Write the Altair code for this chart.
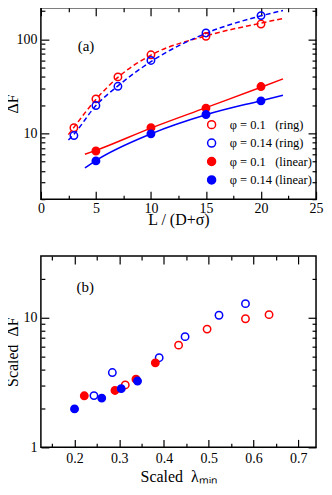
import altair as alt
import pandas as pd

FONT = "Liberation Serif"
RED = "#ff0000"
BLUE = "#0000ff"
NONE = "rgba(255,255,255,0)"

# ---------------- panel (a) data ----------------
L_ring = [3, 5, 7, 10, 15, 20]
dF_ring_01 = [11.5, 23.3, 39.9, 68.6, 107.7, 145.6]
dF_ring_014 = [9.5, 19.8, 31.7, 59.7, 117, 179]
L_lin = [5, 10, 15, 20]
dF_lin_01 = [6.5, 11.5, 18.6, 31.5]
dF_lin_014 = [5.1, 9.9, 15.9, 22.2]

fit_ring_01_L = [2.5, 3, 5, 7, 10, 15, 20, 22]
fit_ring_01_dF = [9.7, 11.6, 23, 39.5, 68, 109, 149, 167]
fit_ring_014_L = [2.5, 3, 5, 7, 10, 15, 20, 22]
fit_ring_014_dF = [8.5, 9.8, 19.8, 32, 58, 116, 178, 203]
fit_lin_01_L = [4, 5, 10, 15, 20, 22]
fit_lin_01_dF = [6.0, 6.6, 11.4, 18.8, 31, 38]
fit_lin_014_L = [4, 5, 10, 15, 20, 22]
fit_lin_014_dF = [4.3, 5.15, 9.9, 15.8, 22.3, 25.5]

# ---------------- panel (b) data ----------------
lam_ring_01 = [0.3136, 0.4328, 0.4965, 0.5823, 0.635]
sdF_ring_01 = [3.03, 6.15, 8.18, 9.83, 10.57]
lam_ring_014 = [0.2436, 0.2847, 0.3894, 0.4473, 0.5231, 0.5823]
sdF_ring_014 = [2.51, 3.78, 4.92, 7.15, 10.46, 12.86]
lam_lin_01 = [0.222, 0.2906, 0.3375, 0.3808]
sdF_lin_01 = [2.50, 2.75, 3.36, 4.49]
lam_lin_014 = [0.2002, 0.261, 0.3045, 0.341]
sdF_lin_014 = [1.98, 2.40, 2.84, 3.25]

series = ["\u03c6 = 0.1\u00a0\u00a0\u00a0(ring)", "\u03c6 = 0.14 (ring)",
          "\u03c6 = 0.1\u00a0\u00a0\u00a0(linear)", "\u03c6 = 0.14 (linear)"]
fills = [NONE, NONE, RED, BLUE]
strokes = [RED, BLUE, RED, BLUE]

# axis ticks / labels
xa_major = [0, 5, 10, 15, 20, 25]
xa_minor = [2.5, 7.5, 12.5, 17.5, 22.5]
ya_major = [10, 100]
ya_minor = [2, 3, 4, 5, 6, 7, 8, 9, 20, 30, 40, 50, 60, 70, 80, 90, 200]
xb_major = [0.2, 0.3, 0.4, 0.5, 0.6, 0.7]
xb_minor = [0.15, 0.25, 0.35, 0.45, 0.55, 0.65]
yb_major = [1, 10]
yb_minor = [2, 3, 4, 5, 6, 7, 8, 9, 20]

W, H = 276, 192


def pts(xs_list, ys_list):
    rows = []
    for i, (xs, ys) in enumerate(zip(xs_list, ys_list)):
        for x, y in zip(xs, ys):
            rows.append({"x": x, "y": y, "s": series[i], "o": i})
    return pd.DataFrame(rows)


def line_df(xs, ys):
    return pd.DataFrame({"x": xs, "y": ys})


def axis(orient, values, size, labels=False, title=None, **kw):
    if not labels:
        kw.setdefault("minExtent", 0)
        kw.setdefault("maxExtent", 0)
    return alt.Axis(orient=orient, values=values, tickSize=size, offset=-size,
                    domain=False, grid=False, labels=labels, title=title,
                    tickColor="black", tickWidth=1.2,
                    labelFont=FONT, titleFont=FONT, labelFontSize=14,
                    titleFontSize=16, titleFontWeight="normal",
                    labelColor="black", titleColor="black", **kw)


def carriers(df, xs, ys, xmaj, xmin, ymaj, ymin, xtitle, ytitle, xlp, xtp, xfmt, yfmt):
    out = []
    specs = [
        (axis("bottom", xmaj, 8, labels=True, title=xtitle, labelPadding=xlp,
              titlePadding=xtp, labelFlush=False, format=xfmt),
         axis("left", ymaj, 8, labels=True, title=ytitle, labelPadding=4,
              titlePadding=-3, minExtent=31, maxExtent=31, format=yfmt)),
        (axis("bottom", xmin, 4), axis("left", ymin, 4)),
        (axis("top", xmaj, 8), axis("right", ymaj, 8)),
        (axis("top", xmin, 4), axis("right", ymin, 4)),
    ]
    for xax, yax in specs:
        out.append(alt.Chart(df).mark_point(opacity=0).encode(
            x=alt.X("x:Q", scale=xs, axis=xax),
            y=alt.Y("y:Q", scale=ys, axis=yax)))
    return out


def fitline(xs, ys, color, dash, sx, sy):
    m = alt.Chart(line_df(xs, ys)).mark_line(
        color=color, strokeWidth=1.5, interpolate="monotone",
        **({"strokeDash": dash} if dash else {}))
    return m.encode(x=alt.X("x:Q", scale=sx, axis=None),
                    y=alt.Y("y:Q", scale=sy, axis=None))


# ---------------- panel (a) ----------------
sxa = alt.Scale(domain=[0, 25], nice=False, zero=False)
sya = alt.Scale(type="log", domain=[2, 217], nice=False)
dfa = pts([L_ring, L_ring, L_lin, L_lin], [dF_ring_01, dF_ring_014, dF_lin_01, dF_lin_014])

leg = alt.Legend(title=None, orient="none", legendX=165, legendY=111,
                 symbolType="circle", symbolSize=64, symbolStrokeWidth=1.5,
                 labelFont=FONT, labelFontSize=12.5, labelColor="black",
                 labelOffset=12, rowPadding=3.5, padding=0, labelLimit=0)

points_a = alt.Chart(dfa).mark_point(shape="circle", filled=True, size=55,
                                      strokeWidth=1.5, opacity=1).encode(
    x=alt.X("x:Q", scale=sxa, axis=None),
    y=alt.Y("y:Q", scale=sya, axis=None),
    fill=alt.Fill("s:N", scale=alt.Scale(domain=series, range=fills), legend=leg),
    stroke=alt.Stroke("s:N", scale=alt.Scale(domain=series, range=strokes), legend=leg),
    order=alt.Order("o:Q"))

lines_a = [
    fitline(fit_ring_01_L, fit_ring_01_dF, RED, [5, 3], sxa, sya),
    fitline(fit_ring_014_L, fit_ring_014_dF, BLUE, [5, 3], sxa, sya),
    fitline(fit_lin_01_L, fit_lin_01_dF, RED, None, sxa, sya),
    fitline(fit_lin_014_L, fit_lin_014_dF, BLUE, None, sxa, sya),
]

label_a = alt.Chart(pd.DataFrame({"x": [4.1], "y": [84], "t": ["(a)"]})).mark_text(
    font=FONT, fontSize=15, color="black").encode(
    x=alt.X("x:Q", scale=sxa, axis=None), y=alt.Y("y:Q", scale=sya, axis=None), text="t:N")

panel_a = alt.layer(
    *carriers(dfa, sxa, sya, xa_major, xa_minor, ya_major, ya_minor,
              "L / (D+\u03c3)", "\u0394F", 2, -4, "d", "d"),
    *lines_a, points_a, label_a
).resolve_axis(x="independent", y="independent").properties(width=W, height=H)

# ---------------- panel (b) ----------------
sxb = alt.Scale(domain=[0.125, 0.74], nice=False, zero=False)
syb = alt.Scale(type="log", domain=[1, 30], nice=False)
dfb = pts([lam_ring_01, lam_ring_014, lam_lin_01, lam_lin_014],
          [sdF_ring_01, sdF_ring_014, sdF_lin_01, sdF_lin_014])

points_b = alt.Chart(dfb).mark_point(shape="circle", filled=True, size=55,
                                      strokeWidth=1.5, opacity=1).encode(
    x=alt.X("x:Q", scale=sxb, axis=None),
    y=alt.Y("y:Q", scale=syb, axis=None),
    fill=alt.Fill("s:N", scale=alt.Scale(domain=series, range=fills), legend=None),
    stroke=alt.Stroke("s:N", scale=alt.Scale(domain=series, range=strokes), legend=None),
    order=alt.Order("o:Q"))

label_b = alt.Chart(pd.DataFrame({"x": [0.224], "y": [17.4], "t": ["(b)"]})).mark_text(
    font=FONT, fontSize=15, color="black").encode(
    x=alt.X("x:Q", scale=sxb, axis=None), y=alt.Y("y:Q", scale=syb, axis=None), text="t:N")

panel_b = alt.layer(
    *carriers(dfb, sxb, syb, xb_major, xb_minor, yb_major, yb_minor,
              "Scaled\u00a0 \u03bb\u2098\u1d62\u2099", "Scaled\u00a0 \u0394F", 4, 3, ".1f", "d"),
    points_b, label_b
).resolve_axis(x="independent", y="independent").properties(width=W, height=H)

chart = alt.vconcat(panel_a, panel_b, spacing=26).resolve_scale(
    fill="independent", stroke="independent").resolve_legend(
    fill="independent", stroke="independent").properties(
    padding={"left": -4, "top": -3, "right": 0, "bottom": -2},
    background="white"
).configure_view(stroke="black", strokeWidth=1.5)

chart.save("out.html", embed_options={"renderer": "svg", "actions": False})
